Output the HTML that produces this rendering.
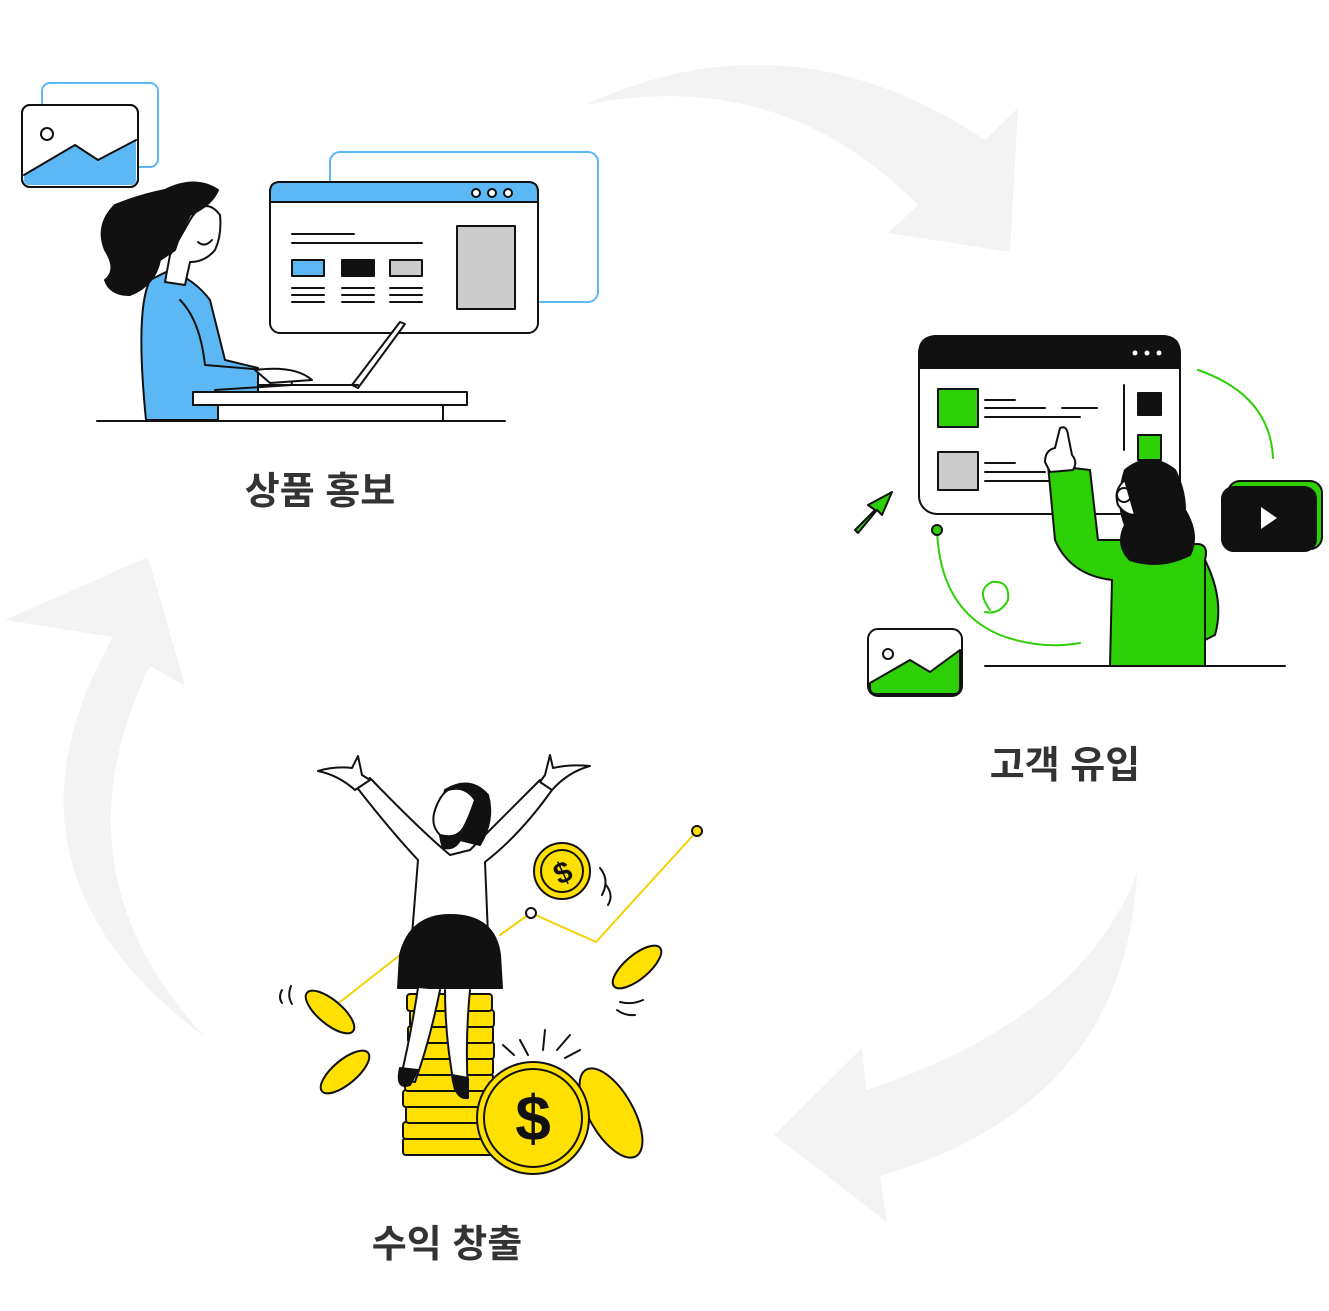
<!DOCTYPE html>
<html><head><meta charset="utf-8"><style>
html,body{margin:0;padding:0;background:#fff;}
svg{display:block}
text{font-family:"Liberation Sans","Noto Sans CJK KR",sans-serif;font-weight:bold;fill:#333;}
</style></head><body>
<svg width="1329" height="1311" viewBox="0 0 1329 1311" xmlns="http://www.w3.org/2000/svg">
<g fill="#f3f3f3">
<path d="M585,105 Q790,10 985,140 L1018,108 L1010,252 L888,233 L918,205 Q780,65 585,105 Z"/>
<path d="M1137,873 Q1125,1105 880,1176 L887,1222 L774,1135 L862,1048 L866,1090 Q1080,1020 1137,873 Z"/>
<path d="M205,1037 Q-20,870 113,637 L5,620 L148,557 L185,686 L150,666 Q50,870 205,1037 Z"/>
</g>

<g stroke="#111" stroke-width="2" stroke-linejoin="round" stroke-linecap="round">
<rect x="42" y="83" width="116" height="84" rx="8" fill="none" stroke="#5bb8f5"/>
<rect x="22" y="105" width="116" height="82" rx="8" fill="#fff"/>
<path d="M24,180 L24,175 L75,145 L98,160 L136,140 L136,180 Q136,185 130,185 L30,185 Q24,185 24,180Z" fill="#5bb8f5" stroke="none"/>
<rect x="22" y="105" width="116" height="82" rx="8" fill="none"/>
<path d="M24,175 L75,145 L98,160 L136,140" fill="none"/>
<circle cx="47" cy="134" r="6" fill="#fff"/>
<rect x="330" y="152" width="268" height="150" rx="10" fill="none" stroke="#5bb8f5"/>
<rect x="270" y="182" width="268" height="151" rx="10" fill="#fff"/>
<path d="M270,202 L270,192 Q270,182 280,182 L528,182 Q538,182 538,192 L538,202 Z" fill="#5bb8f5"/>
<circle cx="476" cy="193" r="4" fill="#fff"/><circle cx="492" cy="193" r="4" fill="#fff"/><circle cx="508" cy="193" r="4" fill="#fff"/>
<path d="M292,234 H354 M292,243 H422" fill="none"/>
<rect x="292" y="260" width="32" height="16" fill="#5bb8f5"/>
<rect x="342" y="260" width="32" height="16" fill="#111"/>
<rect x="390" y="260" width="32" height="16" fill="#ccc"/>
<path d="M292,288H324M292,295H324M292,302H324M342,288H374M342,295H374M342,302H374M390,288H422M390,295H422M390,302H422" fill="none"/>
<rect x="457" y="226" width="58" height="83" fill="#ccc"/>
<path d="M150,280 Q135,310 146,420 L218,420 L218,395 L258,392 L258,368 L225,360 L210,300 Q195,280 170,270 Z" fill="#5bb8f5"/>
<path d="M180,300 Q200,320 205,365 L290,372 L292,385 L215,390" fill="none"/>
<path d="M190,220 Q205,195 220,215 Q222,235 215,250 Q205,262 190,262 L185,285 L165,282 L170,255 Z" fill="#fff"/>
<path d="M165,190 Q195,175 218,190 Q212,205 190,215 L180,235 L175,250 L160,260 Q155,285 130,295 Q110,295 105,280 Q118,270 105,250 Q95,225 115,205 Q140,195 165,190Z" fill="#111"/>
<path d="M198,242 Q205,248 212,240" fill="none"/>
<path d="M255,370 Q295,365 312,380 L270,383 Z" fill="#fff"/>
<path d="M352,385 L400,322 L405,324 L358,388 Z" fill="#fff"/>
<path d="M258,385 H358" fill="none"/>
<rect x="193" y="392" width="274" height="13" fill="#fff"/>
<path d="M218,405 V421 M443,405 V421 M97,421 H505" fill="none"/>
</g>
<text x="320" y="504" font-size="38" text-anchor="middle">상품 홍보</text>

<g stroke="#111" stroke-width="2" stroke-linejoin="round" stroke-linecap="round">
<path d="M1198,370 Q1270,395 1273,458" fill="none" stroke="#2dcf05"/>
<path d="M937,530 Q940,610 1000,635 Q1040,650 1080,643" fill="none" stroke="#2dcf05"/>
<path d="M990,610 Q975,590 992,582 Q1010,580 1008,600 Q1000,615 985,612" fill="none" stroke="#2dcf05"/>
<circle cx="937" cy="530" r="5" fill="#2dcf05"/>
<rect x="919" y="336" width="261" height="178" rx="18" fill="#fff"/>
<path d="M919,368 L919,354 Q919,336 937,336 L1162,336 Q1180,336 1180,354 L1180,368 Z" fill="#111"/>
<circle cx="1135" cy="353" r="2.5" fill="#fff" stroke="none"/><circle cx="1147" cy="353" r="2.5" fill="#fff" stroke="none"/><circle cx="1159" cy="353" r="2.5" fill="#fff" stroke="none"/>
<rect x="938" y="389" width="40" height="38" fill="#2dcf05"/>
<rect x="938" y="452" width="40" height="38" fill="#ccc"/>
<path d="M985,400H1015M985,408H1045M1062,408H1097M985,417H1080M985,463H1015M985,472H1045M985,481H1080M1124,385V450" fill="none"/>
<rect x="1138" y="393" width="23" height="22" fill="#111"/>
<rect x="1138" y="435" width="23" height="25" fill="#2dcf05"/>
<path d="M855,530 L875,510 L868,505 L892,492 L882,515 L877,510 L858,533Z" fill="#2dcf05"/>
<rect x="1228" y="481" width="94" height="68" rx="12" fill="#2dcf05"/>
<rect x="1222" y="487" width="94" height="64" rx="12" fill="#111"/>
<path d="M1261,507 L1277,518 L1261,529Z" fill="#fff" stroke="none"/>
<rect x="868" y="629" width="94" height="67" rx="10" fill="#fff"/>
<path d="M870,683 L910,660 L930,672 L960,650 L960,688 Q960,694 954,694 L876,694 Q870,694 870,688Z" fill="#2dcf05"/>
<circle cx="888" cy="654" r="5" fill="#fff"/>
<path d="M1048,465 L1055,540 Q1070,575 1112,580 L1110,666 L1205,666 L1205,560 Q1210,540 1190,545 L1130,540 L1098,540 L1090,470 Z" fill="#2dcf05"/>
<path d="M1205,560 Q1225,600 1215,635 L1205,640 Z" fill="#2dcf05"/>
<path d="M1045,462 Q1045,450 1055,448 L1060,428 Q1067,425 1068,435 L1072,455 Q1078,462 1073,470 L1050,472 Z" fill="#fff"/>
<path d="M1125,470 Q1150,450 1175,470 Q1185,490 1185,510 Q1200,535 1190,555 Q1160,570 1130,560 Q1115,545 1125,525 Q1115,500 1125,470Z" fill="#111"/>
<path d="M1125,480 Q1113,490 1118,505 Q1125,515 1135,515 Z" fill="#fff"/>
<circle cx="1124" cy="495" r="7" fill="none"/>
<path d="M985,666 H1285" fill="none"/>
</g>
<text x="1065" y="778" font-size="38" text-anchor="middle">고객 유입</text>

<g stroke="#111" stroke-width="2" stroke-linejoin="round" stroke-linecap="round">
<path d="M340,1002 L400,955 M500,935 L531,913 L596,942 L697,831" fill="none" stroke="#f5d000"/>
<circle cx="531" cy="913" r="5" fill="#fff"/>
<circle cx="697" cy="831" r="5" fill="#ffe000"/>
<circle cx="562" cy="871" r="28" fill="#ffe000"/>
<circle cx="562" cy="871" r="21" fill="none"/>
<text x="562" y="883" font-size="30" text-anchor="middle" style="fill:#111" transform="rotate(-25 562 871)" stroke="none">$</text>
<path d="M600,868 Q610,880 602,895 M606,885 Q614,895 608,905" fill="none"/>
<path d="M282,990 Q278,997 282,1003 M291,986 Q287,996 292,1004" fill="none"/>
<ellipse cx="330" cy="1012" rx="30" ry="12" transform="rotate(40 330 1012)" fill="#ffe000"/>
<ellipse cx="345" cy="1072" rx="30" ry="12" transform="rotate(-40 345 1072)" fill="#ffe000"/>
<ellipse cx="637" cy="967" rx="30" ry="12" transform="rotate(-40 637 967)" fill="#ffe000"/>
<path d="M620,1002 Q632,1005 643,1000 M617,1010 Q625,1016 635,1015" fill="none"/>
<g fill="#ffe000">
<rect x="403" y="1138" width="90" height="17" rx="3"/>
<rect x="403" y="1122" width="90" height="17" rx="3"/>
<rect x="406" y="1106" width="90" height="17" rx="3"/>
<rect x="403" y="1090" width="90" height="17" rx="3"/>
<rect x="405" y="1074" width="88" height="17" rx="3"/>
<rect x="408" y="1058" width="85" height="17" rx="3"/>
<rect x="410" y="1042" width="84" height="17" rx="3"/>
<rect x="408" y="1026" width="85" height="17" rx="3"/>
<rect x="410" y="1010" width="84" height="17" rx="3"/>
<rect x="407" y="994" width="85" height="17" rx="3"/>
</g>
<path d="M545,1030 L543,1050 M520,1040 L528,1055 M570,1035 L557,1050 M503,1045 L514,1055 M580,1050 L565,1058" fill="none"/>
<ellipse cx="611" cy="1113" rx="22" ry="50" transform="rotate(-30 611 1113)" fill="#ffe000"/>
<circle cx="533" cy="1118" r="56" fill="#ffe000"/>
<circle cx="533" cy="1118" r="49" fill="none"/>
<text x="533" y="1140" font-size="64" text-anchor="middle" style="fill:#111" stroke="none">$</text>
<path d="M355,785 Q390,830 418,860 L412,935 L488,935 L485,862 Q520,835 552,790 L540,780 Q500,820 470,850 L450,855 Q420,830 370,778Z" fill="#fff"/>
<path d="M318,771 Q335,766 352,768 L358,756 L362,775 L370,780 L355,790 Q338,775 318,771Z" fill="#fff"/>
<path d="M590,766 Q570,764 553,768 L550,755 L545,775 L540,782 L552,790 Q568,772 590,766Z" fill="#fff"/>
<path d="M445,790 Q470,775 488,795 Q495,820 480,845 L460,840 Q455,850 443,848 Q435,825 445,790Z" fill="#111"/>
<path d="M448,790 Q465,785 475,800 Q470,815 465,825 Q458,840 440,835 Q430,825 435,810 Q440,795 448,790Z" fill="#fff"/>
<path d="M400,955 Q410,915 450,915 Q495,915 500,955 L502,988 L398,988Z" fill="#111"/>
<path d="M418,988 Q410,1040 400,1080 L415,1082 Q430,1040 440,990 M445,990 Q445,1040 455,1090 L468,1092 Q465,1040 470,990" fill="#fff"/>
<path d="M400,1068 Q395,1090 410,1085 L418,1070 Z M452,1075 Q455,1100 468,1098 L468,1078Z" fill="#111"/>
</g>
<text x="447" y="1257" font-size="38" text-anchor="middle">수익 창출</text>
</svg>
</body></html>
